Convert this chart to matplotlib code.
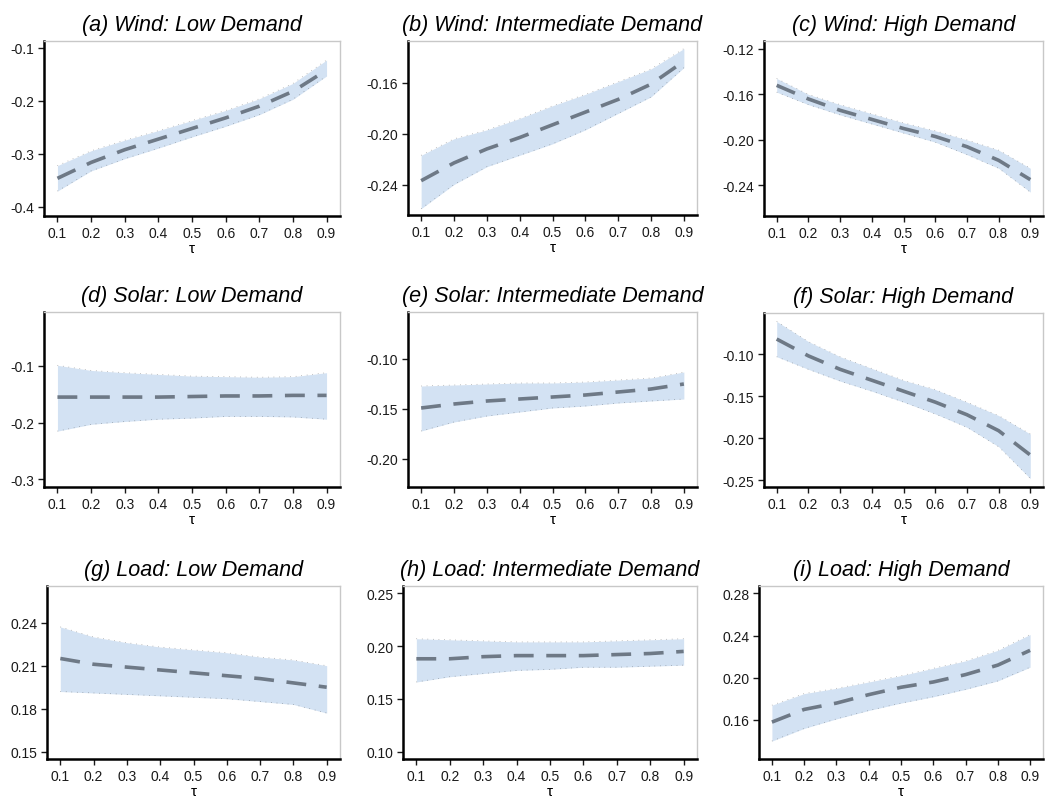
import numpy as np
import matplotlib
matplotlib.use('Agg')
import matplotlib.pyplot as plt

plt.rcParams['font.family'] = ['Liberation Sans', 'DejaVu Sans']

taus = [0.1, 0.2, 0.3, 0.4, 0.5, 0.6, 0.7, 0.8, 0.9]

titles = ['(a) Wind: Low Demand', '(b) Wind: Intermediate Demand', '(c) Wind: High Demand',
          '(d) Solar: Low Demand', '(e) Solar: Intermediate Demand', '(f) Solar: High Demand',
          '(g) Load: Low Demand', '(h) Load: Intermediate Demand', '(i) Load: High Demand']

# quantile coefficient estimates with lower / upper confidence bounds
wind_low = [-0.346, -0.316, -0.292, -0.272, -0.252, -0.232, -0.210, -0.182, -0.142]
wind_low_lo = [-0.370, -0.332, -0.309, -0.289, -0.268, -0.248, -0.226, -0.197, -0.153]
wind_low_hi = [-0.322, -0.294, -0.274, -0.256, -0.237, -0.218, -0.196, -0.167, -0.123]

wind_mid = [-0.237, -0.223, -0.212, -0.203, -0.193, -0.183, -0.173, -0.161, -0.143]
wind_mid_lo = [-0.259, -0.240, -0.226, -0.217, -0.208, -0.197, -0.184, -0.171, -0.148]
wind_mid_hi = [-0.217, -0.204, -0.197, -0.188, -0.178, -0.169, -0.159, -0.149, -0.133]

wind_high = [-0.152, -0.164, -0.174, -0.182, -0.190, -0.197, -0.206, -0.218, -0.235]
wind_high_lo = [-0.158, -0.169, -0.178, -0.186, -0.194, -0.202, -0.213, -0.225, -0.246]
wind_high_hi = [-0.146, -0.160, -0.169, -0.177, -0.185, -0.192, -0.200, -0.209, -0.225]

solar_low = [-0.155, -0.155, -0.155, -0.155, -0.154, -0.153, -0.153, -0.152, -0.152]
solar_low_lo = [-0.215, -0.203, -0.198, -0.194, -0.192, -0.189, -0.189, -0.190, -0.194]
solar_low_hi = [-0.099, -0.108, -0.112, -0.115, -0.118, -0.119, -0.120, -0.119, -0.112]

solar_mid = [-0.149, -0.145, -0.142, -0.140, -0.138, -0.136, -0.133, -0.130, -0.125]
solar_mid_lo = [-0.172, -0.163, -0.157, -0.153, -0.149, -0.147, -0.144, -0.142, -0.140]
solar_mid_hi = [-0.127, -0.126, -0.125, -0.124, -0.124, -0.123, -0.121, -0.119, -0.113]

solar_high = [-0.082, -0.102, -0.118, -0.131, -0.144, -0.157, -0.172, -0.191, -0.220]
solar_high_lo = [-0.103, -0.118, -0.132, -0.144, -0.157, -0.171, -0.187, -0.210, -0.248]
solar_high_hi = [-0.061, -0.085, -0.103, -0.117, -0.131, -0.142, -0.157, -0.173, -0.195]

load_low = [0.215, 0.211, 0.209, 0.207, 0.205, 0.203, 0.201, 0.198, 0.195]
load_low_lo = [0.192, 0.191, 0.190, 0.189, 0.188, 0.187, 0.185, 0.183, 0.177]
load_low_hi = [0.237, 0.230, 0.226, 0.223, 0.221, 0.219, 0.216, 0.214, 0.210]

load_mid = [0.188, 0.188, 0.190, 0.191, 0.191, 0.191, 0.192, 0.193, 0.195]
load_mid_lo = [0.166, 0.171, 0.174, 0.177, 0.178, 0.180, 0.180, 0.181, 0.182]
load_mid_hi = [0.207, 0.206, 0.205, 0.204, 0.204, 0.204, 0.205, 0.206, 0.207]

load_high = [0.158, 0.170, 0.176, 0.184, 0.191, 0.196, 0.203, 0.212, 0.226]
load_high_lo = [0.140, 0.152, 0.161, 0.169, 0.176, 0.182, 0.189, 0.197, 0.210]
load_high_hi = [0.174, 0.185, 0.190, 0.196, 0.202, 0.209, 0.216, 0.226, 0.241]

series = [(wind_low, wind_low_lo, wind_low_hi), (wind_mid, wind_mid_lo, wind_mid_hi),
          (wind_high, wind_high_lo, wind_high_hi), (solar_low, solar_low_lo, solar_low_hi),
          (solar_mid, solar_mid_lo, solar_mid_hi), (solar_high, solar_high_lo, solar_high_hi),
          (load_low, load_low_lo, load_low_hi), (load_mid, load_mid_lo, load_mid_hi),
          (load_high, load_high_lo, load_high_hi)]

yticks = [[-0.4, -0.3, -0.2, -0.1], [-0.24, -0.20, -0.16], [-0.24, -0.20, -0.16, -0.12],
          [-0.3, -0.2, -0.1], [-0.20, -0.15, -0.10], [-0.25, -0.20, -0.15, -0.10],
          [0.15, 0.18, 0.21, 0.24], [0.10, 0.15, 0.20, 0.25], [0.16, 0.20, 0.24, 0.28]]
yfmt = ['%.1f', '%.2f', '%.2f', '%.1f', '%.2f', '%.2f', '%.2f', '%.2f', '%.2f']
ylims = [(-0.417, -0.087), (-0.264, -0.127), (-0.267, -0.113),
         (-0.3135, -0.005), (-0.228, -0.053), (-0.258, -0.051),
         (0.145, 0.2655), (0.093, 0.257), (0.123, 0.287)]

# panel boxes in pixels: left, top, right, bottom
W, H = 1055, 804
boxes = [(44, 42, 340, 217), (408, 42, 697, 216), (764, 42, 1043, 217),
         (44, 313, 340, 488), (408, 313, 697, 488), (764, 314, 1043, 488),
         (47, 587, 340, 760), (403, 587, 697, 760), (759, 587, 1043, 760)]

fig = plt.figure(figsize=(W / 100, H / 100), dpi=100)

for k in range(9):
    l, t, r, b = boxes[k]
    ax = fig.add_axes([l / W, 1 - b / H, (r - l) / W, (b - t) / H])
    est, lo, hi = series[k]
    ax.fill_between(taus, lo, hi, color='#d3e2f3', lw=0)
    # sparse dotted outline of the band
    ax.plot(taus, lo, color='#333333', lw=0.5, ls=(0, (1, 7)), alpha=0.55)
    ax.plot(taus, hi, color='#333333', lw=0.5, ls=(0, (1, 7)), alpha=0.55)
    ax.plot(taus, est, color='#6e7986', lw=2.6, dashes=(5.5, 3.5))

    ax.set_xlim(0.06, 0.94)
    ax.set_ylim(*ylims[k])
    ax.set_xticks(taus)
    ax.set_xticklabels(['%.1f' % v for v in taus])
    ax.set_yticks(yticks[k])
    ax.set_yticklabels([yfmt[k] % v for v in yticks[k]])
    ax.tick_params(direction='out', length=4, width=1, labelsize=10, colors='#1a1a1a', pad=3)
    for s in ['left', 'bottom']:
        ax.spines[s].set_linewidth(1.8)
        ax.spines[s].set_color('black')
    for s in ['right', 'top']:
        ax.spines[s].set_linewidth(1.0)
        ax.spines[s].set_color('#c8c8c8')
    ax.set_xlabel('τ', fontsize=11, labelpad=1)
    ax.set_title(titles[k], fontsize=15.5, style='italic', pad=8)

fig.savefig('out.png', dpi=100)
